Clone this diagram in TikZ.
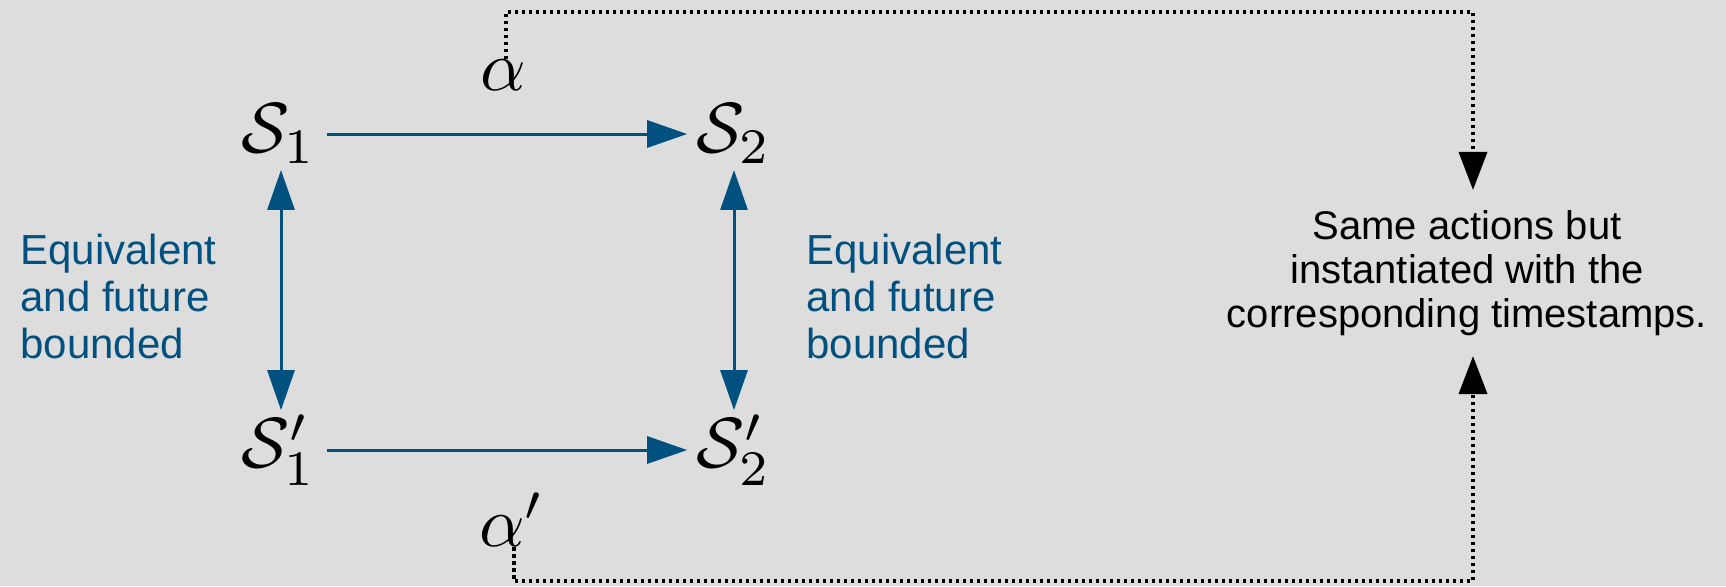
\documentclass[tikz,border=0pt]{standalone}
\usepackage[no-math]{fontspec}
\usepackage{graphicx}
\newfontfamily\labelfont{Liberation Sans}
\usetikzlibrary{arrows.meta}
\definecolor{bg}{RGB}{221,221,221}
\definecolor{navy}{RGB}{0,80,128}
% 10pt math (cmr7 subscripts) enlarged as a whole
\newcommand\bigmath[1]{\scalebox{3.55}{$#1$}}

\begin{document}
\begin{tikzpicture}[x=0.5pt,y=-0.5pt,
  state/.style={inner sep=0pt},
  act/.style={inner sep=0pt},
  flow/.style={draw=navy, line width=1.5pt, shorten <=5pt, shorten >=4.5pt,
    -{Triangle[length=20pt,width=13.5pt]}},
  link/.style={draw=navy, line width=1.5pt, shorten <=3pt, shorten >=2pt,
    {Triangle[length=20pt,width=13.5pt]}-{Triangle[length=20pt,width=13.5pt]}},
  note/.style={text=navy, align=left, inner sep=0pt, anchor=north west,
    font=\labelfont\fontsize{21}{23.5}\selectfont},
  remark/.style={align=center, inner xsep=0pt, inner ysep=10pt,
    font=\labelfont\fontsize{20}{22}\selectfont},
  trace/.style={draw=black, line width=1.8pt, dash pattern=on 1.7pt off 1.8pt,
    -{Triangle[length=19pt,width=14pt]}},
]
\useasboundingbox[fill=bg] (0,0) rectangle (1726,586);

% states
\node[state] (s1)  at (279,134) {\bigmath{\mathcal{S}_1}};
\node[state] (s2)  at (734,134) {\bigmath{\mathcal{S}_2}};
\node[state] (s1p) at (279,450) {\bigmath{\mathcal{S}'_1}};
\node[state] (s2p) at (734,450) {\bigmath{\mathcal{S}'_2}};

% actions
\node[act] (a1) at (503,75)  {\bigmath{\alpha}};
\node[act] (a2) at (512,520) {\bigmath{\alpha'}};

% transitions
\draw[flow] (s1) -- (s2);
\draw[flow] (s1p) -- (s2p);

% equivalence links
\draw[link] ([xshift=1pt]s1.south) -- ([xshift=1pt]s1p.north);
\draw[link] ([xshift=0pt]s2.south) -- ([xshift=0pt]s2p.north);

\node[note] (n1) at (20,234)  {Equivalent\\and future\\bounded};
\node[note] (n2) at (806,234) {Equivalent\\and future\\bounded};

% explanation on the right
\node[remark] (txt) at (1467,273)
  {Same actions but\\instantiated with the\\corresponding timestamps.};

\coordinate (tr) at (1473,12);
\coordinate (br) at (1473,581);

\draw[trace] ([xshift=1.5pt]a1.north) |- (tr) -- (tr |- txt.north);
\draw[trace] ([xshift=1pt]a2.south) |- (br) -- (br |- txt.south);
\end{tikzpicture}
\end{document}
